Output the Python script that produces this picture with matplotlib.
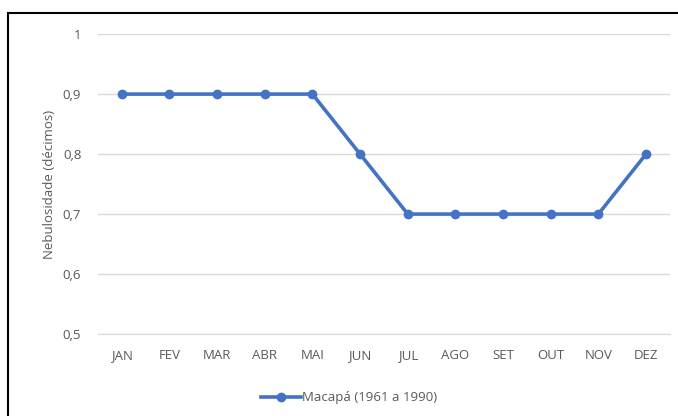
import matplotlib.pyplot as plt
from matplotlib.patches import Rectangle
from matplotlib.ticker import FuncFormatter

meses = ["JAN", "FEV", "MAR", "ABR", "MAI", "JUN", "JUL", "AGO", "SET", "OUT", "NOV", "DEZ"]
nebulosidade = [0.9, 0.9, 0.9, 0.9, 0.9, 0.8, 0.7, 0.7, 0.7, 0.7, 0.7, 0.8]
yticks = [0.5, 0.6, 0.7, 0.8, 0.9, 1.0]

plt.rcParams['font.family'] = ['Open Sans', 'DejaVu Sans']
cinza = '#595959'

fig = plt.figure(figsize=(6.78, 4.16), dpi=100)
ax = fig.add_axes([0.1445, 0.197, 0.8435, 0.721])

x = range(len(meses))
ax.plot(x, nebulosidade, color='#4472C4', linewidth=2.6, marker='o', markersize=6,
        label="Macapá (1961 a 1990)")

ax.set_xlim(-0.5, len(meses) - 0.5)
ax.set_ylim(0.5, 1.0)
ax.set_yticks(yticks)
ax.yaxis.set_major_formatter(FuncFormatter(lambda v, p: ("%g" % round(v, 1)).replace('.', ',')))
ax.set_xticks(list(x))
ax.set_xticklabels(meses)
ax.grid(axis='y', color='#d9d9d9', linewidth=1)
ax.set_axisbelow(True)
for s in ['top', 'right', 'left']:
    ax.spines[s].set_visible(False)
ax.spines['bottom'].set_color('#d9d9d9')
ax.tick_params(length=0, colors=cinza, labelsize=9.5, pad=11)
ax.tick_params(axis='y', pad=12)
ax.set_ylabel("Nebulosidade (décimos)", color=cinza, fontsize=9.5, labelpad=5)

fig.legend(loc='lower center', bbox_to_anchor=(0.515, 0.0), frameon=False,
           fontsize=9.5, labelcolor=cinza, handlelength=3, handletextpad=0.1)

# moldura do grafico
fig.patches.append(Rectangle((8 / 678, -0.1), 1.2, 0.969 + 0.1, transform=fig.transFigure,
                             fill=False, edgecolor='black', linewidth=1.5))

fig.savefig("out.png", dpi=100)
